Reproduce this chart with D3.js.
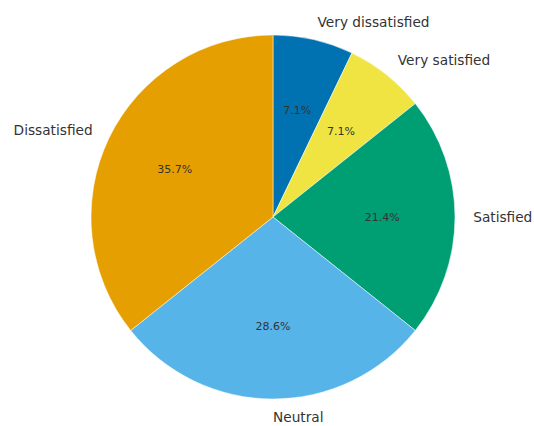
<!DOCTYPE html>
<html><head><meta charset="utf-8">
<script src="https://cdn.jsdelivr.net/npm/d3@7"></script>
<style>body{margin:0;background:#fff}svg{display:block}text{font-family:"DejaVu Sans",sans-serif}</style>
</head><body><svg id="c" width="534" height="426"></svg>
<script>
const categories = ["Very dissatisfied","Very satisfied","Satisfied","Neutral","Dissatisfied"];
const values = [1,1,3,4,5];
const colors = ["#0072B2","#F0E442","#009E73","#56B4E9","#E69F00"];

const svg = d3.select("#c");
const cx = 273, cy = 217, r = 182;
const g = svg.append("g").attr("transform",`translate(${cx},${cy})`);
const total = d3.sum(values);
const pie = d3.pie().sort(null).value(d=>d)(values);
const arc = d3.arc().innerRadius(0).outerRadius(r);
g.selectAll("path").data(pie).enter().append("path")
  .attr("d",arc).attr("fill",(d,i)=>colors[i]).attr("stroke","#fff").attr("stroke-width",0.5);
const fmt = v => (v/total*100).toFixed(1)+"%";
pie.forEach((d,i)=>{
  const a = (d.startAngle+d.endAngle)/2;
  const sx = Math.sin(a), sy = -Math.cos(a);
  g.append("text").attr("x",r*1.1*sx).attr("y",r*1.1*sy)
    .attr("text-anchor", sx>=-1e-9?"start":"end")
    .attr("dominant-baseline","central").attr("font-size",13.7).attr("fill","#333")
    .text(categories[i]);
  g.append("text").attr("x",r*0.6*sx).attr("y",r*0.6*sy)
    .attr("text-anchor","middle").attr("dominant-baseline","central")
    .attr("font-size",11).attr("fill","#333").text(fmt(d.data));
});
</script></body></html>
